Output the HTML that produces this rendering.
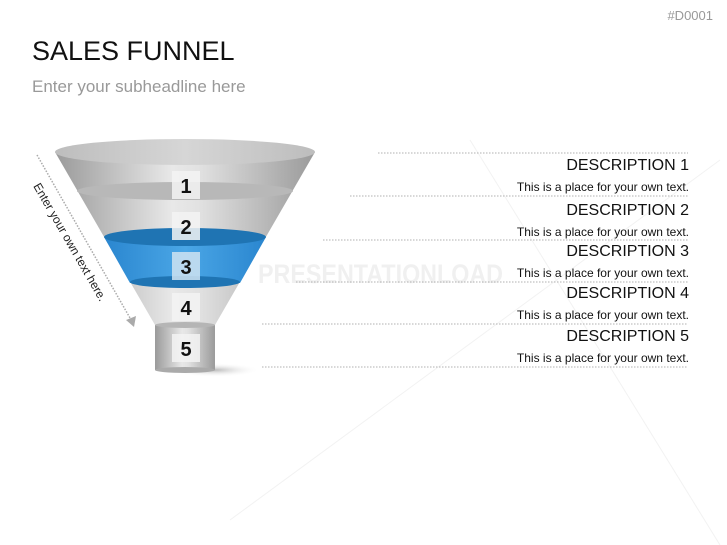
<!DOCTYPE html>
<html><head><meta charset="utf-8"><style>
body{margin:0;width:727px;height:545px;background:#fff;overflow:hidden;position:relative;font-family:"Liberation Sans",sans-serif}
.t{position:absolute;white-space:nowrap}
</style></head><body>
<svg width="727" height="545" style="position:absolute;left:0;top:0">
<defs>
<linearGradient id="g" x1="0" x2="1"><stop offset="0" stop-color="#9a9a9a"/><stop offset=".45" stop-color="#e8e8e8"/><stop offset=".55" stop-color="#e2e2e2"/><stop offset="1" stop-color="#9a9a9a"/></linearGradient>
<linearGradient id="b" x1="0" x2="1"><stop offset="0" stop-color="#2a86cf"/><stop offset=".5" stop-color="#4aa6e6"/><stop offset="1" stop-color="#2a86cf"/></linearGradient>
<linearGradient id="top" x1="0" x2="1"><stop offset="0" stop-color="#bdbdbd"/><stop offset=".5" stop-color="#d6d6d6"/><stop offset="1" stop-color="#bdbdbd"/></linearGradient>
<radialGradient id="sh"><stop offset="0" stop-color="#bbb"/><stop offset="1" stop-color="#fff" stop-opacity="0"/></radialGradient>
</defs>
<g stroke="#f2f2f2" stroke-width="1"><line x1="470" y1="140" x2="720" y2="545"/><line x1="230" y1="520" x2="720" y2="160"/></g>
<text x="258" y="283" font-size="27" font-weight="bold" fill="#f0f0f0" font-family="Liberation Sans" textLength="245" lengthAdjust="spacingAndGlyphs">PRESENTATIONLOAD</text>
<g stroke="#b0b0b0" stroke-dasharray="1.5,1.5" stroke-width="1">
<line x1="378" y1="153" x2="688" y2="153"/><line x1="350" y1="196" x2="688" y2="196"/><line x1="323" y1="240" x2="688" y2="240"/><line x1="296" y1="282" x2="688" y2="282"/><line x1="262" y1="324" x2="688" y2="324"/><line x1="262" y1="367" x2="688" y2="367"/>
</g>
<ellipse cx="215" cy="370" rx="45" ry="7" fill="url(#sh)"/>
<path d="M55,152 L155,325 L215,325 L315,152 Z" fill="url(#g)"/>
<rect x="155" y="325" width="60" height="45" fill="url(#g)"/>
<ellipse cx="185" cy="370" rx="30" ry="3" fill="#aaa"/>
<ellipse cx="185" cy="325" rx="30" ry="3" fill="#b5b5b5"/>
<ellipse cx="185" cy="191" rx="108" ry="9" fill="#b8b8b8"/>
<path d="M104,237 L130,283 L240,283 L266,237 Z" fill="url(#b)"/>
<ellipse cx="185" cy="237" rx="81" ry="9" fill="#1f74b3"/>
<ellipse cx="185" cy="282" rx="55" ry="6" fill="#1f74b3"/>
<ellipse cx="185" cy="152" rx="130" ry="13" fill="url(#top)"/>
<g fill="#f4f4f4" opacity=".85"><rect x="172" y="171" width="28" height="28"/><rect x="172" y="212" width="28" height="28"/><rect x="172" y="252" width="28" height="28" fill="#cfe3f2"/><rect x="172" y="293" width="28" height="28"/><rect x="172" y="334" width="28" height="28"/></g>
<g font-size="20" font-weight="bold" fill="#111" text-anchor="middle" font-family="Liberation Sans"><text x="186" y="193">1</text><text x="186" y="234">2</text><text x="186" y="274">3</text><text x="186" y="315">4</text><text x="186" y="356">5</text></g>
<line x1="37" y1="155" x2="130" y2="318" stroke="#aaa" stroke-width="1.5" stroke-dasharray="1.5,1.5"/>
<polygon points="126,320 136,316 134,327" fill="#aaa"/>
<text transform="translate(33,186) rotate(60)" font-size="12" fill="#222" font-family="Liberation Sans">Enter your own text here.</text>
</svg>
<div class="t" style="right:14px;top:8px;font-size:13px;color:#999">#D0001</div>
<div class="t" style="left:32px;top:36px;font-size:27px;color:#111">SALES FUNNEL</div>
<div class="t" style="left:32px;top:77px;font-size:17px;color:#999">Enter your subheadline here</div>
<div style="position:absolute;right:38px;top:157px;text-align:right;color:#111">
<div style="font-size:16px;height:20px">DESCRIPTION 1</div><div style="font-size:12px;height:25px;padding-top:3px;box-sizing:border-box">This is a place for your own text.</div>
<div style="font-size:16px;height:20px">DESCRIPTION 2</div><div style="font-size:12px;height:21px;padding-top:3px;box-sizing:border-box">This is a place for your own text.</div>
<div style="font-size:16px;height:20px">DESCRIPTION 3</div><div style="font-size:12px;height:22px;padding-top:3px;box-sizing:border-box">This is a place for your own text.</div>
<div style="font-size:16px;height:20px">DESCRIPTION 4</div><div style="font-size:12px;height:23px;padding-top:3px;box-sizing:border-box">This is a place for your own text.</div>
<div style="font-size:16px;height:20px">DESCRIPTION 5</div><div style="font-size:12px;height:22px;padding-top:3px;box-sizing:border-box">This is a place for your own text.</div>
</div>
</body></html>
